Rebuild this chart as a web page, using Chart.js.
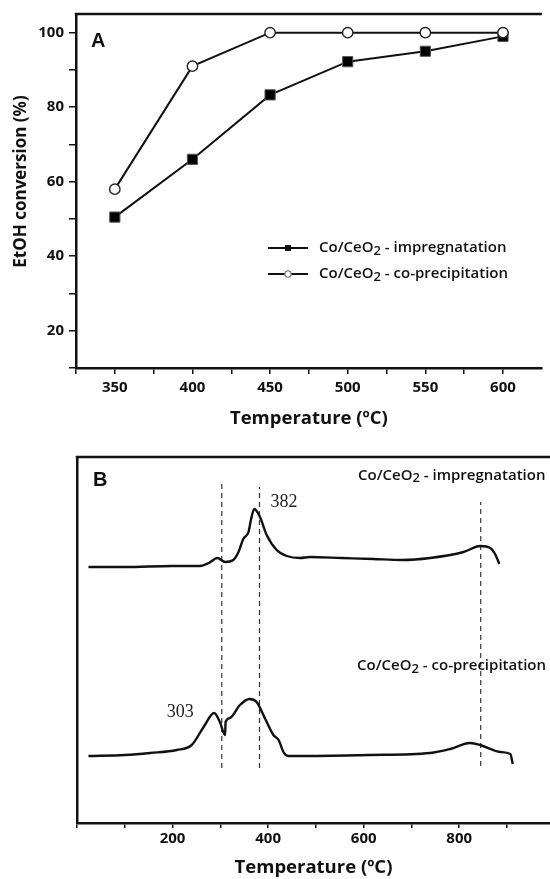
<!DOCTYPE html>
<html>
<head>
<meta charset="utf-8">
<script src="https://cdn.jsdelivr.net/npm/chart.js@4.4.1/dist/chart.umd.min.js"></script>
<style>
  html, body { margin: 0; padding: 0; background: #fff; }
  #wrap { position: relative; width: 550px; height: 879px; overflow: hidden; }
  #chartA { position: absolute; left: 0; top: 0; }
  #chartB { position: absolute; left: 0; top: 440px; }
</style>
</head>
<body>
<div id="wrap">
  <canvas id="chartA" width="550" height="430"></canvas>
  <canvas id="chartB" width="550" height="439"></canvas>
</div>
<script>
// Panel A - EtOH conversion vs temperature
const tempsA = [350, 400, 450, 500, 550, 600];
const convImpregnation = [50.5, 66, 83.3, 92.2, 95, 99];
const convCoprecipitation = [58, 91, 100, 100, 100, 100];
const yTicksA = [10, 20, 30, 40, 50, 60, 70, 80, 90, 100];
const xTicksA = [325, 350, 375, 400, 425, 450, 475, 500, 525, 550, 575, 600];

// Panel B - TPR profiles (signal in arbitrary units)
const tprTempImp = [24, 100, 200, 258, 276, 294, 310, 327, 338, 348, 359, 364, 371, 383, 397, 418, 439, 467, 488, 554, 620, 680, 739, 809, 844, 865, 875, 884];
const tprSignalImp = [256, 256, 257, 257, 260, 265, 261, 263, 271, 284, 291, 303, 314, 306, 288, 273, 267, 265, 266, 265, 264, 263, 265, 271, 277, 275, 269, 259];
const tprTempCop = [24, 100, 153, 209, 240, 265, 287, 299, 310, 311, 320, 341, 361, 376, 394, 411, 422, 432, 442, 467, 610, 739, 781, 823, 844, 886, 907, 912];
const tprSignalCop = [67, 68, 70, 73, 78, 96, 110, 101, 88, 101, 105, 118, 124, 121, 104, 88, 83, 71, 67, 67, 68, 70, 74, 80, 78, 71, 69, 59];
const xTicksB = [0, 100, 200, 300, 400, 500, 600, 700, 800, 900];
const xLabelsB = [200, 400, 600, 800];
const peakTemps = [303, 382, 845];
const peakTop = [340, 336, 321];
const peakBottom = [55, 55, 57];

const INK = '#111';
const FONT = "'Open Sans', sans-serif";

Chart.defaults.font.family = FONT;
Chart.defaults.color = INK;
Chart.defaults.animation = false;

function pairs(xs, ys) {
    return xs.map((x, i) => ({ x: x, y: ys[i] }));
}

// "Co/CeO2 - ..." with a lowered 2
function drawSample(ctx, x, y, rest) {
    ctx.textAlign = 'left';
    ctx.textBaseline = 'middle';
    ctx.font = '600 15px ' + FONT;
    ctx.fillText('Co/CeO', x, y);
    let w = ctx.measureText('Co/CeO').width;
    ctx.font = '600 13px ' + FONT;
    ctx.fillText('2', x + w, y + 3);
    w += ctx.measureText('2').width;
    ctx.font = '600 15px ' + FONT;
    ctx.fillText(' - ' + rest, x + w, y);
}

const frameTop = {
    id: 'frameTop',
    afterDraw(chart) {
        const { ctx, chartArea: a } = chart;
        ctx.save();
        ctx.strokeStyle = INK;
        ctx.lineWidth = 2.5;
        ctx.beginPath();
        ctx.moveTo(a.left - 1.25, a.top);
        ctx.lineTo(a.right, a.top);
        ctx.stroke();
        ctx.restore();
    }
};

const decorA = {
    id: 'decorA',
    afterDraw(chart) {
        const { ctx, chartArea: a } = chart;
        ctx.save();
        ctx.fillStyle = INK;
        ctx.strokeStyle = INK;

        ctx.font = 'bold 20px "Liberation Sans"';
        ctx.textBaseline = 'alphabetic';
        ctx.fillText('A', a.left + 15, a.top + 33);

        // y axis title
        ctx.save();
        ctx.translate(21, (a.top + a.bottom) / 2 - 9.5);
        ctx.rotate(-Math.PI / 2);
        ctx.font = 'bold 17px ' + FONT;
        ctx.textAlign = 'center';
        ctx.textBaseline = 'middle';
        ctx.fillText('EtOH conversion (%)', 0, 0);
        ctx.restore();

        // legend
        const rows = [a.top + 234, a.top + 260];
        rows.forEach((ry, i) => {
            const x0 = a.left + 192, x1 = a.left + 232, mx = a.left + 212;
            ctx.lineWidth = 2;
            ctx.beginPath();
            ctx.moveTo(x0, ry);
            ctx.lineTo(x1, ry);
            ctx.stroke();
            if (i === 0) {
                ctx.fillRect(mx - 3, ry - 3, 6, 6);
            } else {
                ctx.beginPath();
                ctx.arc(mx, ry, 3.3, 0, Math.PI * 2);
                ctx.fillStyle = '#fff';
                ctx.fill();
                ctx.lineWidth = 1;
                ctx.strokeStyle = '#555';
                ctx.stroke();
                ctx.fillStyle = INK;
                ctx.strokeStyle = INK;
            }
            drawSample(ctx, a.left + 243, ry, i === 0 ? 'impregnatation' : 'co-precipitation');
        });
        ctx.restore();
    }
};

const decorB = {
    id: 'decorB',
    afterDraw(chart) {
        const { ctx, chartArea: a, scales } = chart;
        const xs = scales.x, ys = scales.y;
        ctx.save();
        ctx.fillStyle = INK;

        ctx.font = 'bold 20px "Liberation Sans"';
        ctx.textBaseline = 'alphabetic';
        ctx.fillText('B', a.left + 16, a.top + 29.3);

        drawSample(ctx, a.left + 281, a.top + 18.3, 'impregnatation');
        drawSample(ctx, a.left + 280, ys.getPixelForValue(157), 'co-precipitation');

        ctx.font = '18px "Liberation Serif"';
        ctx.fillStyle = '#222';
        ctx.textBaseline = 'middle';
        ctx.textAlign = 'left';
        ctx.fillText('382', xs.getPixelForValue(382) + 11, ys.getPixelForValue(321));
        ctx.textAlign = 'right';
        ctx.fillText('303', xs.getPixelForValue(303) - 28, ys.getPixelForValue(111));
        ctx.restore();
    }
};

const tickFont = { size: 15, weight: 'bold', family: FONT };
const titleFont = { size: 18.5, weight: 'bold', family: FONT };

new Chart(document.getElementById('chartA'), {
    type: 'line',
    data: {
        datasets: [
            {
                label: 'Co/CeO2 - co-precipitation',
                data: pairs(tempsA, convCoprecipitation),
                borderColor: INK,
                borderWidth: 2,
                pointStyle: 'circle',
                pointRadius: 5.2,
                pointBackgroundColor: '#fff',
                pointBorderColor: '#222',
                pointBorderWidth: 1.4,
                tension: 0,
                order: 0
            },
            {
                label: 'Co/CeO2 - impregnatation',
                data: pairs(tempsA, convImpregnation),
                borderColor: INK,
                borderWidth: 2,
                pointStyle: 'rect',
                pointRadius: 7.2,
                pointBackgroundColor: '#000',
                pointBorderColor: '#555',
                pointBorderWidth: 1,
                tension: 0,
                order: 1
            }
        ]
    },
    options: {
        responsive: false,
        layout: { padding: { top: 14, right: 1, left: 0, bottom: 0 } },
        plugins: { legend: { display: false }, tooltip: { enabled: false } },
        scales: {
            x: {
                type: 'linear',
                min: 325,
                max: 625,
                afterBuildTicks: (s) => { s.ticks = xTicksA.map(v => ({ value: v })); },
                afterFit: (s) => { s.height = 62; },
                grid: { drawOnChartArea: false, tickLength: 6, color: INK, lineWidth: 1.5 },
                border: { color: INK, width: 2.5 },
                ticks: {
                    autoSkip: false,
                    maxRotation: 0,
                    padding: 5,
                    color: INK,
                    font: tickFont,
                    callback: (v) => (v % 50 === 0 ? v : '')
                },
                title: {
                    display: true,
                    text: 'Temperature (ºC)',
                    color: INK,
                    padding: 0,
                    font: titleFont
                }
            },
            y: {
                min: 10,
                max: 105,
                afterBuildTicks: (s) => { s.ticks = yTicksA.map(v => ({ value: v })); },
                afterFit: (s) => { s.width = 76; },
                grid: { drawOnChartArea: false, tickLength: 7, color: INK, lineWidth: 1.5 },
                border: { color: INK, width: 2.5 },
                ticks: {
                    autoSkip: false,
                    padding: 5,
                    color: INK,
                    font: tickFont,
                    callback: (v) => (v % 20 === 0 ? v : '')
                }
            }
        }
    },
    plugins: [frameTop, decorA]
});

const dashSets = peakTemps.map((t, i) => ({
    data: [{ x: t, y: peakBottom[i] }, { x: t, y: peakTop[i] }],
    borderColor: '#333',
    borderWidth: 1.2,
    borderDash: [5, 4],
    pointRadius: 0,
    showLine: true
}));

new Chart(document.getElementById('chartB'), {
    type: 'scatter',
    data: {
        datasets: [
            {
                label: 'Co/CeO2 - impregnatation',
                data: pairs(tprTempImp, tprSignalImp),
                borderColor: INK,
                borderWidth: 2.4,
                pointRadius: 0,
                showLine: true,
                cubicInterpolationMode: 'monotone'
            },
            {
                label: 'Co/CeO2 - co-precipitation',
                data: pairs(tprTempCop, tprSignalCop),
                borderColor: INK,
                borderWidth: 2.4,
                pointRadius: 0,
                showLine: true,
                cubicInterpolationMode: 'monotone'
            },
            ...dashSets
        ]
    },
    options: {
        responsive: false,
        layout: { padding: { top: 17, right: 0, left: 0, bottom: 0 } },
        plugins: { legend: { display: false }, tooltip: { enabled: false } },
        scales: {
            x: {
                type: 'linear',
                min: 0,
                max: 990,
                afterBuildTicks: (s) => { s.ticks = xTicksB.map(v => ({ value: v })); },
                afterFit: (s) => { s.height = 56; },
                grid: { drawOnChartArea: false, tickLength: 5, color: INK, lineWidth: 1.5 },
                border: { color: INK, width: 2.5 },
                ticks: {
                    autoSkip: false,
                    maxRotation: 0,
                    padding: 2,
                    color: INK,
                    font: tickFont,
                    callback: (v) => (xLabelsB.includes(v) ? v : '')
                },
                title: {
                    display: true,
                    text: 'Temperature (ºC)',
                    color: INK,
                    padding: 0,
                    font: titleFont
                }
            },
            y: {
                min: 0,
                max: 366,
                afterFit: (s) => { s.width = 77; },
                grid: { drawOnChartArea: false, drawTicks: false, color: INK },
                border: { color: INK, width: 2.5 },
                ticks: { display: false }
            }
        }
    },
    plugins: [frameTop, decorB]
});
</script>
</body>
</html>
